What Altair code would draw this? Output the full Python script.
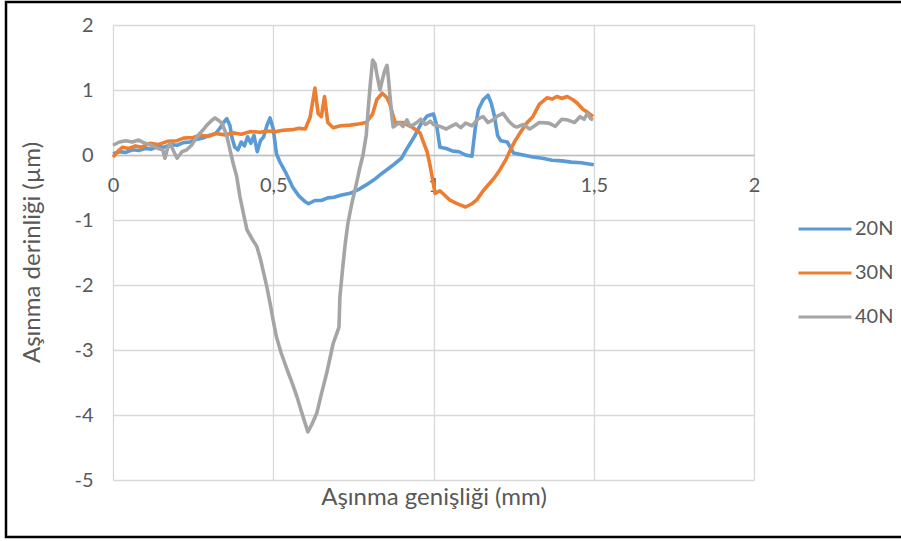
import altair as alt
import pandas as pd

# ---- data ----
series_names = ["20N", "30N", "40N"]
series_colors = ["#5B9BD5", "#ED7D31", "#A5A5A5"]

x_20 = [0.00, 0.02, 0.04, 0.06, 0.08, 0.10, 0.12, 0.14, 0.16, 0.18, 0.20, 0.22, 0.24, 0.26, 0.28,
        0.30, 0.32, 0.335, 0.345, 0.355, 0.365, 0.372, 0.38, 0.39, 0.40, 0.41, 0.42, 0.43, 0.44,
        0.45, 0.46, 0.47, 0.48, 0.49, 0.50, 0.51, 0.52, 0.54, 0.56, 0.58, 0.60, 0.61, 0.63, 0.65,
        0.67, 0.69, 0.71, 0.74, 0.77, 0.79, 0.82, 0.84, 0.87, 0.90, 0.92, 0.94, 0.96, 0.98, 1.00,
        1.01, 1.02, 1.04, 1.06, 1.08, 1.10, 1.12, 1.13, 1.14, 1.155, 1.17, 1.18, 1.19, 1.20, 1.21,
        1.23, 1.25, 1.28, 1.31, 1.34, 1.37, 1.40, 1.43, 1.46, 1.50]
y_20 = [0.02, 0.05, 0.04, 0.08, 0.07, 0.10, 0.09, 0.13, 0.12, 0.16, 0.15, 0.19, 0.20, 0.24, 0.26,
        0.30, 0.33, 0.42, 0.50, 0.56, 0.45, 0.25, 0.12, 0.08, 0.20, 0.14, 0.28, 0.18, 0.30,
        0.05, 0.22, 0.28, 0.45, 0.57, 0.40, 0.02, -0.10, -0.28, -0.49, -0.63, -0.72, -0.75, -0.70, -0.70,
        -0.66, -0.65, -0.62, -0.59, -0.52, -0.46, -0.36, -0.28, -0.17, -0.05, 0.12, 0.28, 0.47, 0.60, 0.63,
        0.45, 0.12, 0.10, 0.06, 0.05, 0.00, -0.02, 0.40, 0.70, 0.85, 0.92, 0.80, 0.60, 0.30, 0.22,
        0.20, 0.03, 0.00, -0.03, -0.05, -0.08, -0.09, -0.11, -0.12, -0.15]

x_30 = [0.00, 0.02, 0.03, 0.05, 0.07, 0.09, 0.115, 0.14, 0.17, 0.20, 0.22, 0.25, 0.27, 0.30, 0.32,
        0.35, 0.375, 0.40, 0.43, 0.46, 0.48, 0.51, 0.53, 0.56, 0.58, 0.60, 0.615, 0.63, 0.64, 0.65,
        0.66, 0.67, 0.687, 0.71, 0.74, 0.77, 0.79, 0.81, 0.823, 0.84, 0.855, 0.864, 0.88, 0.905,
        0.92, 0.936, 0.958, 0.97, 0.98, 0.99, 1.005, 1.02, 1.035, 1.05, 1.07, 1.085, 1.10, 1.12,
        1.135, 1.155, 1.176, 1.19, 1.207, 1.225, 1.24, 1.255, 1.27, 1.29, 1.31, 1.33, 1.354, 1.37,
        1.385, 1.40, 1.417, 1.435, 1.448, 1.467, 1.48, 1.498]
y_30 = [-0.03, 0.08, 0.12, 0.10, 0.14, 0.12, 0.18, 0.16, 0.21, 0.22, 0.26, 0.27, 0.30, 0.29, 0.33,
        0.31, 0.34, 0.32, 0.36, 0.35, 0.37, 0.36, 0.38, 0.39, 0.41, 0.40, 0.58, 1.03, 0.64, 0.59,
        0.90, 0.50, 0.42, 0.45, 0.46, 0.48, 0.50, 0.63, 0.85, 0.95, 0.88, 0.78, 0.50, 0.50,
        0.46, 0.42, 0.34, 0.18, 0.05, -0.18, -0.59, -0.55, -0.62, -0.69, -0.74, -0.77, -0.80, -0.75,
        -0.69, -0.55, -0.43, -0.35, -0.23, -0.08, 0.08, 0.22, 0.34, 0.49, 0.59, 0.78, 0.88, 0.86,
        0.90, 0.87, 0.90, 0.85, 0.80, 0.70, 0.66, 0.59]

x_40 = [0.00, 0.02, 0.04, 0.06, 0.08, 0.10, 0.12, 0.14, 0.155, 0.162, 0.17, 0.178, 0.19, 0.20,
        0.215, 0.23, 0.245, 0.262, 0.28, 0.293, 0.31, 0.318, 0.33, 0.34, 0.355, 0.365, 0.376, 0.386,
        0.396, 0.407, 0.418, 0.435, 0.449, 0.46, 0.468, 0.48, 0.49, 0.50, 0.51, 0.525, 0.543, 0.56,
        0.574, 0.59, 0.608, 0.62, 0.636, 0.65, 0.667, 0.687, 0.70, 0.705, 0.708, 0.718, 0.725,
        0.733, 0.745, 0.76, 0.77, 0.78, 0.79, 0.796, 0.803, 0.81, 0.818, 0.823, 0.833, 0.84, 0.848,
        0.855, 0.86, 0.864, 0.87, 0.874, 0.885, 0.895, 0.905, 0.917, 0.926, 0.936, 0.948, 0.96,
        0.975, 0.99, 1.00, 1.02, 1.04, 1.05, 1.07, 1.085, 1.10, 1.12, 1.14, 1.155, 1.17, 1.186,
        1.20, 1.217, 1.235, 1.25, 1.26, 1.28, 1.30, 1.31, 1.33, 1.36, 1.38, 1.40, 1.417, 1.44,
        1.457, 1.47, 1.48, 1.49, 1.498]
y_40 = [0.15, 0.20, 0.22, 0.20, 0.23, 0.18, 0.15, 0.10, 0.08, -0.05, 0.10, 0.18, 0.05, -0.05,
        0.05, 0.08, 0.15, 0.28, 0.38, 0.46, 0.54, 0.57, 0.53, 0.49, 0.30, 0.08, -0.15, -0.33,
        -0.64, -0.90, -1.15, -1.30, -1.41, -1.60, -1.77, -2.03, -2.28, -2.55, -2.80, -3.05, -3.30, -3.52,
        -3.72, -3.98, -4.26, -4.15, -3.97, -3.68, -3.35, -2.90, -2.72, -2.65, -2.18, -1.67, -1.35,
        -1.05, -0.75, -0.43, -0.20, 0.00, 0.30, 0.69, 1.10, 1.46, 1.40, 1.25, 1.00, 1.15, 1.30,
        1.38, 1.15, 0.92, 0.60, 0.43, 0.47, 0.49, 0.44, 0.54, 0.45, 0.46, 0.50, 0.55,
        0.47, 0.52, 0.47, 0.44, 0.40, 0.43, 0.48, 0.42, 0.49, 0.45, 0.56, 0.59, 0.50, 0.54,
        0.60, 0.64, 0.52, 0.45, 0.43, 0.47, 0.40, 0.43, 0.50, 0.49, 0.44, 0.55, 0.54, 0.50,
        0.59, 0.55, 0.64, 0.56, 0.54]

x_ticks = [0, 0.5, 1, 1.5, 2]
y_ticks = [-5, -4, -3, -2, -1, 0, 1, 2]

x_title = "Aşınma genişliği (mm)"
y_title = "Aşınma derinliği (µm)"

rows = []
for name, xs, ys in zip(series_names, [x_20, x_30, x_40], [y_20, y_30, y_40]):
    for i, (a, b) in enumerate(zip(xs, ys)):
        rows.append({"seri": name, "x": a, "y": b, "i": i})
df = pd.DataFrame(rows)

FONT = "Lato"
TXT = "#595959"
GRID = "#D9D9D9"

lines = alt.Chart(df).mark_line(strokeWidth=3.6, strokeJoin="round", clip=False).encode(
    x=alt.X("x:Q",
            scale=alt.Scale(domain=[0, 2], nice=False, zero=False),
            axis=alt.Axis(values=x_ticks, title=x_title, offset=-325,
                          labelExpr="replace(toString(datum.value), '.', ',')",
                          labelPadding=20, ticks=False, domain=True, labelFlush=False,
                          domainColor="#BFBFBF", domainWidth=1.3,
                          grid=True, gridColor=GRID, gridWidth=1.3,
                          titleY=342, titleBaseline="middle")),
    y=alt.Y("y:Q",
            scale=alt.Scale(domain=[-5, 2], nice=False, zero=False),
            axis=alt.Axis(values=y_ticks, title=y_title,
                          labelExpr="toString(datum.value)", labelFlush=False,
                          labelPadding=20, ticks=False, domain=False,
                          grid=True, gridColor=GRID, gridWidth=1.3,
                          titleX=-81, titleY=227, titleBaseline="middle",
                          titleAlign="center", titleAngle=-90)),
    color=alt.Color("seri:N",
                    scale=alt.Scale(domain=series_names, range=series_colors),
                    legend=alt.Legend(title=None, orient="none", legendX=684, legendY=176,
                                      symbolType="stroke", symbolSize=2809,
                                      symbolStrokeWidth=3, rowPadding=6,
                                      labelFont=FONT, labelFontSize=20, labelColor=TXT,
                                      labelOffset=2)),
    order=alt.Order("i:Q"),
)

frame = alt.Chart(pd.DataFrame({"f": [0]})).mark_rect(
    fill=None, stroke="#000000", strokeWidth=2.5, clip=False
).encode(
    x=alt.value(-107), x2=alt.value(795), y=alt.value(-23), y2=alt.value(512)
)

chart = alt.layer(lines, frame).properties(
    width=641, height=455,
    autosize=alt.AutoSizeParams(type="none"),
    padding={"left": 113, "top": 25, "right": 147, "bottom": 61},
    background="white",
).configure_view(stroke=None).configure_axis(
    labelFont=FONT, labelFontSize=20, labelColor=TXT,
    titleFont=FONT, titleFontSize=24, titleColor=TXT, titleFontWeight="normal",
)

chart.save("out.html", embed_options={"renderer": "svg", "actions": False})
